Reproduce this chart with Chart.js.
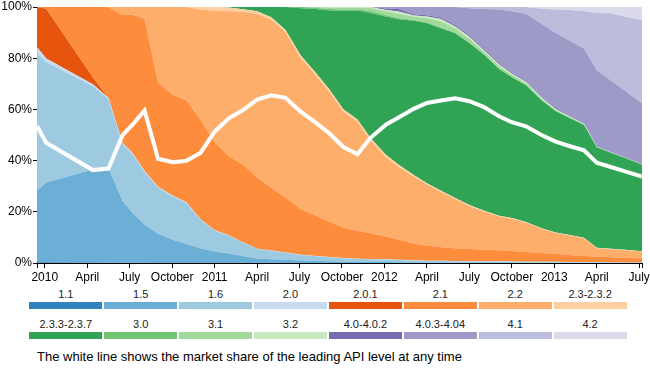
<!DOCTYPE html>
<html><head><meta charset="utf-8">
<script src="https://cdn.jsdelivr.net/npm/chart.js@4/dist/chart.umd.min.js"></script>
<style>
html,body{margin:0;padding:0;background:#fff;width:650px;height:368px;overflow:hidden;font-family:"Liberation Sans",Arial,Helvetica,sans-serif;}
#wrap{position:relative;width:650px;height:368px;}
#c{position:absolute;left:0;top:0;}
.lab{position:absolute;width:73px;text-align:center;font-size:11px;line-height:13px;color:#222;white-space:nowrap;}
.bar{position:absolute;width:73px;height:7px;}
#caption{position:absolute;left:37px;top:349px;font-size:13px;line-height:15px;color:#000;white-space:nowrap;}
</style></head>
<body>
<div id="wrap">
<canvas id="c" width="650" height="285"></canvas>
<div id="legend"></div>
<div id="caption">The white line shows the market share of the leading API level at any time</div>
</div>
<script>
// months since January 2010 for each dashboard snapshot
const months = [-0.55,0.1,3.4,4.5,5.5,6.2,7.05,8.0,9.05,10.0, 11.0,12.0,13.0,14.0,15.0,16.0,17.0,18.1,19.1,20.1, 21.1,22.1,23.0,24.1,25.0,26.1,27.0,28.0,29.0,30.0, 31.0,32.1,33.0,34.0,35.1,36.1,37.0,38.1,39.0,40.0, 41.0,42.2];

const versions = ["1.1","1.5","1.6","2.0","2.0.1","2.1","2.2","2.3-2.3.2","2.3.3-2.3.7","3.0","3.1","3.2","4.0-4.0.2","4.0.3-4.04","4.1","4.2"];
const colors = ["#3182bd","#6baed6","#9ecae1","#c6dbef","#e6550d","#fd8d3c","#fdae6b","#fdd0a2","#31a354","#74c476","#a1d99b","#c7e9c0","#756bb1","#9e9ac8","#bcbddc","#dadaeb"];

const share_1_1   = [0.3,0.3,0.2,0.1,0.1,0.1,0.1,0,0,0, 0,0,0,0,0,0,0,0,0,0, 0,0,0,0,0,0,0,0,0,0, 0,0,0,0,0,0,0,0,0,0, 0,0];
const share_1_5   = [28.0,31.1,36.3,36.9,24.1,19.4,14.9,11.4,9.1,7.4, 5.8,4.5,3.7,2.7,1.8,1.5,1.3,1.0,0.8,0.7, 0.6,0.5,0.5,0.4,0.3,0.3,0.2,0.2,0.2,0.2, 0.2,0.2,0.1,0.1,0.1,0.1,0.1,0.1,0.1,0.1, 0.1,0.1];
const share_1_6   = [53.5,47.0,32.5,27.0,22.3,23.0,20.5,18.1,16.9,16.0, 11.1,8.1,7.0,5.3,3.7,3.3,2.7,2.1,1.8,1.5, 1.25,1.1,1.0,1.0,0.9,0.7,0.6,0.6,0.5,0.4, 0.4,0.4,0.4,0.3,0.3,0.3,0.2,0.2,0.2,0.2, 0.1,0.1];
const share_2_0   = [2.6,1.5,0.8,0.5,0.4,0.5,0.4,0.3,0.3,0.3, 0.2,0.2,0.1,0.1,0.1,0.1,0.1,0.1,0.1,0.1, 0.1,0.1,0.1,0.1,0.1,0.1,0.1,0.1,0.1,0.1, 0.1,0.1,0.1,0.1,0.1,0.1,0.1,0.1,0.1,0, 0,0];
const share_2_0_1 = [15.6,19.4,2.7,0,0,0,0,0,0,0, 0,0,0,0,0,0,0,0,0,0, 0,0,0,0,0,0,0,0,0,0, 0,0,0,0,0,0,0,0,0,0, 0,0];
const share_2_1   = [0,0.7,27.5,35.5,50.0,54.0,59.6,40.7,39.4,39.9, 38.9,34.4,31.0,30.3,27.9,24.6,21.5,17.8,15.9,13.9, 11.85,10.9,10.0,8.9,7.9,6.4,5.9,5.3,5.0,4.8, 4.5,4.3,4.1,3.8,3.4,3.1,2.7,2.3,2.1,1.9, 1.8,1.7];
const share_2_2   = [0,0,0,0,3.1,3.0,4.5,29.5,34.3,36.4, 43.0,51.3,56.5,59.7,63.8,65.5,64.5,59.0,55.0,50.7, 45.3,42.5,36.3,31.0,28.4,26.1,23.9,21.5,19.2,16.8, 14.9,13.2,12.6,11.4,9.5,8.1,7.7,7.0,3.3,3.2, 3.0,2.6];
const share_2_3   = [0,0,0,0,0,0,0,0,0,0, 1.0,1.5,1.5,1.0,1.0,1.0,1.0,1.0,1.0,1.0, 1.0,1.0,1.0,0.9,0.8,0.7,0.5,0.5,0.4,0.4, 0.4,0.3,0.3,0.3,0.2,0.2,0.2,0.2,0.2,0.2, 0.2,0.1];
const share_2_3_3 = [0,0,0,0,0,0,0,0,0,0, 0,0,0.2,0.9,1.7,4.0,8.9,18.5,24.6,30.7, 38.3,42.5,48.8,54.0,56.8,60.3,62.5,63.5,64.3,63.2, 61.0,57.3,55.0,53.4,50.0,47.4,45.8,44.0,39.2,37.5, 35.8,33.8];
const share_3_0   = [0,0,0,0,0,0,0,0,0,0, 0,0,0,0,0,0,0,0.5,0.5,0.6, 0.6,0.5,0.7,0.6,0.5,0.3,0.3,0.3,0.2,0.1, 0.1,0.1,0.1,0.1,0.1,0,0,0,0,0, 0,0];
const share_3_1   = [0,0,0,0,0,0,0,0,0,0, 0,0,0,0,0,0,0,0,0.3,0.6, 0.8,0.7,1.2,1.4,1.7,1.3,1.6,2.3,1.7,1.6, 1.1,1.0,0.8,0.7,0.5,0.5,0.4,0.3,0.2,0.1, 0.1,0.1];
const share_3_2   = [0,0,0,0,0,0,0,0,0,0, 0,0,0,0,0,0,0,0,0,0.2, 0.2,0.2,0.4,0.5,0.8,0.5,0.7,1.0,0.8,0.8, 0.6,0.6,0.5,0.5,0.4,0.4,0.3,0.2,0.1,0.1, 0.1,0];
const share_4_0   = [0,0,0,0,0,0,0,0,0,0, 0,0,0,0,0,0,0,0,0,0, 0,0,0,0.6,1.0,0.5,0.5,0.6,0.6,0.6, 0.6,0.5,0.5,0.4,0.4,0.4,0.4,0.3,0.3,0.2, 0.2,0.2];
const share_4_0_3 = [0,0,0,0,0,0,0,0,0,0, 0,0,0,0,0,0,0,0,0,0, 0,0,0,0.6,0.8,2.8,3.2,4.1,7.0,10.5, 15.3,21.0,23.8,26.3,28.5,29.2,29.2,29.1,29.5,27.8, 25.9,23.7];
const share_4_1   = [0,0,0,0,0,0,0,0,0,0, 0,0,0,0,0,0,0,0,0,0, 0,0,0,0,0,0,0,0,0,0.5, 0.8,1.0,1.7,2.6,5.8,9.2,11.7,14.6,22.4,26.3, 28.9,32.4];
const share_4_2   = [0,0,0,0,0,0,0,0,0,0, 0,0,0,0,0,0,0,0,0,0, 0,0,0,0,0,0,0,0,0,0, 0,0,0,0,0.7,1.0,1.2,1.6,2.3,2.4, 3.8,5.2];

const tickMonths = [0,3,6,9,12,15,18,21,24,27,30,33,36,39,42];
const tickLabels = ["2010","April","July","October","2011","April","July","October","2012","April","July","October","2013","April","July"];
const yTicks = [0,20,40,60,80,100];

const allShares = [share_1_1,share_1_5,share_1_6,share_2_0,share_2_0_1,share_2_1,share_2_2,share_2_3,share_2_3_3,share_3_0,share_3_1,share_3_2,share_4_0,share_4_0_3,share_4_1,share_4_2];

const X_MIN = months[0], X_MAX = months[months.length-1];
const FONT = '"Liberation Sans", Arial, Helvetica, sans-serif';

const datasets = allShares.map((arr, i) => ({
  label: versions[i],
  data: months.map((m, j) => ({x: m, y: arr[j]})),
  backgroundColor: colors[i],
  borderColor: 'rgba(0,0,0,0)',
  borderWidth: 0,
  pointRadius: 0,
  tension: 0,
  fill: i === 0 ? 'origin' : '-1',
  stack: 'shares'
}));

// leading API level share = largest share at each snapshot
const leader = months.map((m, j) => ({x: m, y: Math.max(...allShares.map(a => a[j]))}));
datasets.push({
  label: 'leading',
  data: leader,
  borderColor: '#ffffff',
  borderWidth: 4,
  pointRadius: 0,
  tension: 0,
  fill: false,
  stack: 'leader',
  order: -1,
  borderJoinStyle: 'miter'
});

new Chart(document.getElementById('c'), {
  type: 'line',
  data: {datasets},
  options: {
    responsive: false,
    animation: false,
    devicePixelRatio: 1,
    layout: {padding: {top: 7, right: 8, left: 0, bottom: 0}},
    plugins: {legend: {display: false}, tooltip: {enabled: false}},
    scales: {
      x: {
        type: 'linear',
        min: X_MIN, max: X_MAX,
        afterBuildTicks: s => { s.ticks = [X_MIN, ...tickMonths, X_MAX].map(v => ({value: v})); },
        afterFit: s => { s.height = 22; s.paddingLeft = 0; s.paddingRight = 0; },
        grid: {display: true, drawOnChartArea: false, drawTicks: true, tickLength: 5, color: '#000', lineWidth: 1},
        border: {display: true, color: '#000', width: 1},
        ticks: {
          autoSkip: false, maxRotation: 0, padding: 2, color: '#000',
          font: {family: FONT, size: 12},
          callback: v => { const k = tickMonths.indexOf(v); return k >= 0 ? tickLabels[k] : ''; }
        }
      },
      y: {
        stacked: true,
        min: 0, max: 100,
        afterBuildTicks: s => { s.ticks = yTicks.map(v => ({value: v})); },
        afterFit: s => { s.width = 37; s.paddingTop = 0; s.paddingBottom = 0; },
        grid: {display: true, drawOnChartArea: false, drawTicks: true, tickLength: 4, color: '#000', lineWidth: 1},
        border: {display: true, color: '#000', width: 1},
        ticks: {padding: 1, color: '#000', font: {family: FONT, size: 12}, callback: v => v + '%'}
      }
    }
  }
});

// legend built from the version labels and colours
const lg = document.getElementById('legend');
versions.forEach((v, i) => {
  const row = Math.floor(i / 8), col = i % 8;
  const left = 29.3 + col * 74.9;
  const lab = document.createElement('div');
  lab.className = 'lab';
  lab.textContent = v;
  lab.style.left = left + 'px';
  lab.style.top = (288 + row * 30) + 'px';
  const bar = document.createElement('div');
  bar.className = 'bar';
  bar.style.left = left + 'px';
  bar.style.top = (302 + row * 30) + 'px';
  bar.style.background = colors[i];
  lg.appendChild(lab);
  lg.appendChild(bar);
});
</script>
</body></html>
